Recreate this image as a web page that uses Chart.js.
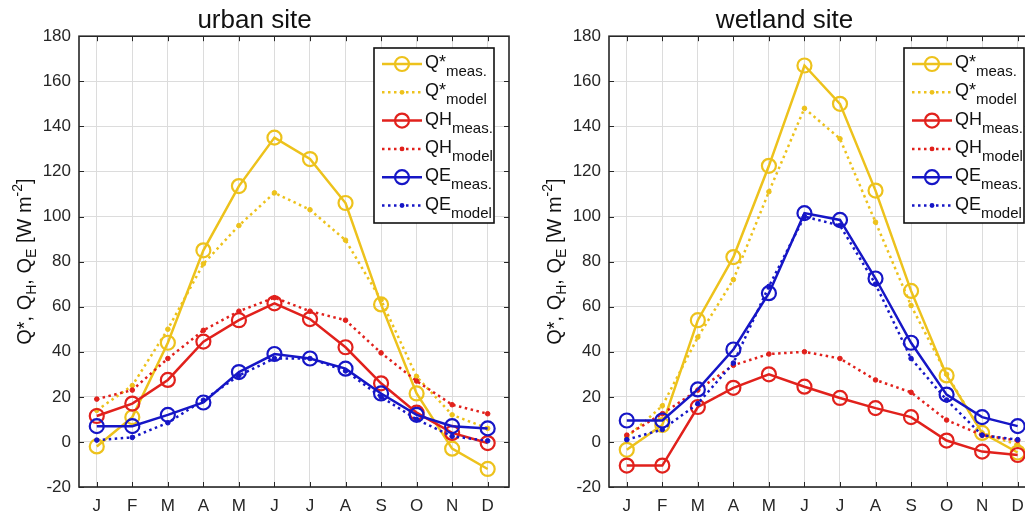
<!DOCTYPE html>
<html>
<head>
<meta charset="utf-8">
<script src="https://cdn.jsdelivr.net/npm/chart.js@4.4.1/dist/chart.umd.min.js"></script>
<style>
  body { margin: 0; width: 1025px; height: 512px; overflow: hidden; position: relative; background: #fff; }
  .panel { position: absolute; top: 0; width: 512px; height: 512px; }
</style>
</head>
<body>
<div class="panel" style="left:0"><canvas id="urban" width="512" height="512"></canvas></div>
<div class="panel" style="left:530px"><canvas id="wetland" width="512" height="512"></canvas></div>
<script>
const months = ['J', 'F', 'M', 'A', 'M', 'J', 'J', 'A', 'S', 'O', 'N', 'D'];

const seriesNames = ['Q*', 'Q*', 'QH', 'QH', 'QE', 'QE'];
const seriesSubs = ['meas.', 'model', 'meas.', 'model', 'meas.', 'model'];
const seriesColors = ['#EDC21C', '#EDC21C', '#E1211C', '#E1211C', '#1616C6', '#1616C6'];

// urban site, W m-2
const urbanQstarMeas = [-2, 11, 44, 85, 113.5, 135, 125.5, 106, 61, 21.5, -3, -12];
const urbanQstarModel = [14, 25, 50, 79, 96, 110.5, 103, 89.5, 63, 29, 12, 6];
const urbanQhMeas = [11.5, 17, 27.5, 44.5, 54, 61.5, 54.5, 42, 26, 13, 4, -0.5];
const urbanQhModel = [19, 23, 37, 49.5, 58, 64, 58, 54, 39.5, 27, 16.5, 12.5];
const urbanQeMeas = [7, 7, 12, 17.5, 31, 39, 37, 32.5, 21.5, 12, 7, 6];
const urbanQeModel = [0.8, 2, 8.5, 18.5, 29.5, 37, 37, 31.5, 20, 10, 2.5, 0.5];

// wetland site, W m-2
const wetlandQstarMeas = [-3.5, 7.5, 54, 82, 122.5, 167, 150, 111.5, 67, 29.5, 4, -4.7];
const wetlandQstarModel = [2, 16, 46.5, 72, 111, 148, 134.5, 97.5, 60.5, 30, 4, -1.3];
const wetlandQhMeas = [-10.5, -10.5, 15.5, 24, 30, 24.5, 19.5, 15, 11, 0.6, -4.3, -5.8];
const wetlandQhModel = [3, 12.5, 23, 34, 39, 40, 37, 27.5, 22, 9.7, 3, 0.6];
const wetlandQeMeas = [9.5, 9.5, 23.3, 41, 66, 101.5, 98.5, 72.5, 44, 21, 11, 7];
const wetlandQeModel = [1, 5.5, 17, 35, 69, 100, 96, 70, 37, 18.6, 3, 1];

const FONT = "'Liberation Sans', Arial, Helvetica, sans-serif";
const AXIS_COLOR = '#262626';

function makeDatasets(series) {

  return series.map((values, i) => {

    const measured = i % 2 === 0;

    return {
      label: seriesNames[i] + ' ' + seriesSubs[i],
      data: values.map((y, k) => ({ x: k + 1, y })),
      borderColor: seriesColors[i],
      backgroundColor: seriesColors[i],
      borderWidth: 2.5,
      borderDash: measured ? [] : [2.5, 3.5],
      pointRadius: measured ? 7 : 2.3,
      pointBorderWidth: measured ? 2.2 : 1,
      pointBackgroundColor: measured ? 'rgba(0,0,0,0)' : seriesColors[i],
      pointStyle: 'circle',
      tension: 0,
      fill: false,
      // later series on top, like matlab
      order: series.length - i
    };

  });

}

// box, inward ticks, legend and y label with sub/superscripts
const matlabAxes = {
  id: 'matlabAxes',
  afterDatasetsDraw(chart) {

    const { ctx, chartArea: a, scales } = chart;
    const len = 5;

    ctx.save();
    ctx.strokeStyle = AXIS_COLOR;
    ctx.lineWidth = 1;
    ctx.beginPath();

    for ( const t of scales.x.ticks ) {
      const px = Math.round(scales.x.getPixelForValue(t.value)) + .5;
      ctx.moveTo(px, a.bottom); ctx.lineTo(px, a.bottom - len);
      ctx.moveTo(px, a.top); ctx.lineTo(px, a.top + len);
    }

    for ( const t of scales.y.ticks ) {
      const py = Math.round(scales.y.getPixelForValue(t.value)) + .5;
      ctx.moveTo(a.left, py); ctx.lineTo(a.left + len, py);
      ctx.moveTo(a.right, py); ctx.lineTo(a.right - len, py);
    }

    ctx.stroke();

    ctx.lineWidth = 1.6;
    ctx.strokeRect(a.left, a.top, a.right - a.left, a.bottom - a.top);
    ctx.restore();

  },
  afterDraw(chart) {

    const { ctx, chartArea: a } = chart;

    // legend
    const bx = a.left + 295, by = 48, bw = 120, bh = 175;

    ctx.save();
    ctx.fillStyle = '#fff';
    ctx.fillRect(bx, by, bw, bh);
    ctx.strokeStyle = '#111';
    ctx.lineWidth = 1.6;
    ctx.strokeRect(bx, by, bw, bh);

    chart.data.datasets.forEach((ds, i) => {

      const ry = by + 16 + i * 28.3;
      const x0 = bx + 8, x1 = bx + 48, xm = (x0 + x1) / 2;
      const measured = i % 2 === 0;

      ctx.strokeStyle = ds.borderColor;
      ctx.fillStyle = ds.borderColor;
      ctx.lineWidth = 2.5;
      ctx.setLineDash(measured ? [] : [2.5, 3.5]);
      ctx.beginPath();
      ctx.moveTo(x0, ry); ctx.lineTo(x1, ry);
      ctx.stroke();
      ctx.setLineDash([]);

      ctx.beginPath();
      if ( measured ) {
        ctx.lineWidth = 2.2;
        ctx.arc(xm, ry, 7, 0, Math.PI * 2);
        ctx.stroke();
      } else {
        ctx.arc(xm, ry, 2.4, 0, Math.PI * 2);
        ctx.fill();
      }

      ctx.fillStyle = '#111';
      ctx.textBaseline = 'alphabetic';
      ctx.textAlign = 'left';
      ctx.font = '18px ' + FONT;
      ctx.fillText(seriesNames[i], x1 + 3, ry + 4);
      const w = ctx.measureText(seriesNames[i]).width;
      ctx.font = '15px ' + FONT;
      ctx.fillText(seriesSubs[i], x1 + 3 + w, ry + 12);

    });

    // y axis title
    const parts = [
      ['Q*, Q', 0], ['H', 1], [', Q', 0], ['E', 1], [' [W m', 0], ['-2', -1], [']', 0]
    ];

    ctx.translate(a.left - 48, (a.top + a.bottom) / 2);
    ctx.rotate(-Math.PI / 2);
    ctx.fillStyle = '#111';

    const fontFor = p => (p === 0 ? '20px ' : '14px ') + FONT;

    let total = 0;
    for ( const [txt, p] of parts ) {
      ctx.font = fontFor(p);
      total += ctx.measureText(txt).width;
    }

    let x = -total / 2;
    for ( const [txt, p] of parts ) {
      ctx.font = fontFor(p);
      ctx.fillText(txt, x, p === 1 ? 5 : (p === -1 ? -9 : 0));
      x += ctx.measureText(txt).width;
    }

    ctx.restore();

  }
};

function buildChart(id, title, series) {

  return new Chart(document.getElementById(id), {
    type: 'line',
    data: { datasets: makeDatasets(series) },
    plugins: [matlabAxes],
    options: {
      responsive: false,
      animation: false,
      layout: {
        autoPadding: false,
        padding: { left: 0, right: 3, top: 0, bottom: 0 }
      },
      scales: {
        x: {
          type: 'linear',
          min: 0.5,
          max: 12.6,
          afterBuildTicks: scale => {
            scale.ticks = months.map((m, i) => ({ value: i + 1 }));
          },
          afterFit: scale => {
            scale.height = 25;
            // labels sit well inside the box, no extra side room needed
            scale.paddingLeft = 0;
            scale.paddingRight = 0;
          },
          border: { display: false },
          grid: { color: '#DCDCDC', lineWidth: 1, drawTicks: false },
          ticks: {
            padding: 9,
            color: AXIS_COLOR,
            font: { family: FONT, size: 17 },
            maxRotation: 0,
            autoSkip: false,
            callback: value => months[value - 1]
          }
        },
        y: {
          min: -20,
          max: 180,
          afterFit: scale => { scale.width = 79; },
          border: { display: false },
          grid: { color: '#DCDCDC', lineWidth: 1, drawTicks: false },
          ticks: {
            stepSize: 20,
            padding: 8,
            color: AXIS_COLOR,
            font: { family: FONT, size: 17 }
          }
        }
      },
      plugins: {
        legend: { display: false },
        tooltip: { enabled: false },
        title: {
          display: true,
          text: title,
          color: '#111',
          font: { family: FONT, size: 26, weight: 'normal', lineHeight: 1.2 },
          padding: { top: 5, bottom: 0 }
        }
      }
    }
  });

}

buildChart('urban', 'urban site', [
  urbanQstarMeas, urbanQstarModel, urbanQhMeas, urbanQhModel, urbanQeMeas, urbanQeModel
]);

buildChart('wetland', 'wetland site', [
  wetlandQstarMeas, wetlandQstarModel, wetlandQhMeas, wetlandQhModel, wetlandQeMeas, wetlandQeModel
]);
</script>
</body>
</html>
